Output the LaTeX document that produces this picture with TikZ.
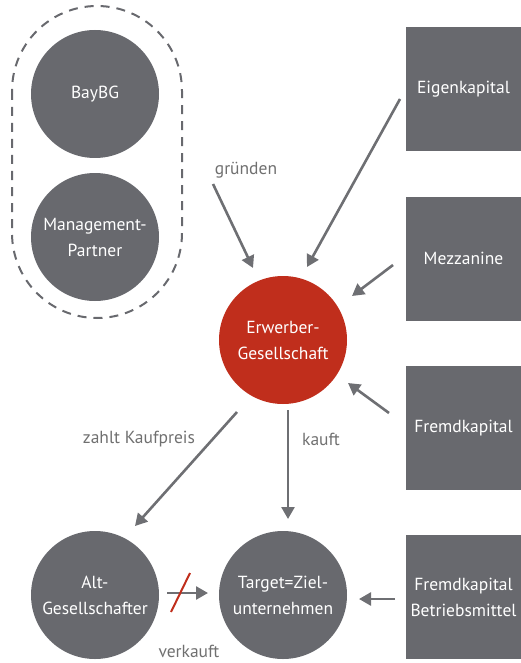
\documentclass[tikz,border=0pt]{standalone}
\usepackage{fontspec}
\setmainfont{PT Sans}
\usetikzlibrary{arrows.meta}
\definecolor{cgray}{RGB}{104,105,110}
\definecolor{cred}{RGB}{192,46,28}
\definecolor{agray}{RGB}{110,111,115}
\definecolor{tgray}{RGB}{112,112,112}
\tikzset{
  circ/.style={circle, fill=cgray, minimum size=128pt, inner sep=0pt, text=white, align=center, font=\fontsize{17.5}{26}\selectfont},
  redcirc/.style={circ, fill=cred},
  box/.style={rectangle, fill=cgray, minimum width=115pt, minimum height=124pt, inner sep=0pt, text=white, align=center, font=\fontsize{17.5}{26}\selectfont},
  arr/.style={draw=agray, line width=2.6pt, -{Triangle[length=12pt,width=13pt]}},
  lbl/.style={text=tgray, font=\fontsize{17.5}{20}\selectfont, inner sep=0pt},
}
\begin{document}
\begin{tikzpicture}[x=1pt,y=-1pt]
\useasboundingbox (0,0) rectangle (521,663);
% dashed group
\draw[cgray, line width=2pt, dash pattern=on 9pt off 7pt, rounded corners=85pt] (12,6) rectangle (182,318);
\node[circ] (bay) at (95,94) {BayBG};
\node[circ] (mgmt) at (95,237) {Management-\\Partner};
\node[redcirc] (erw) at (283,340) {Erwerber-\\Gesellschaft};
\node[circ] (alt) at (95,595) {Alt-\\Gesellschafter};
\node[circ] (tgt) at (283,595) {Target=Ziel-\\unternehmen};
\node[box] (ek) at (463.5,89) {Eigenkapital};
\node[box] (mez) at (463.5,258.5) {Mezzanine};
\node[box] (fk) at (463.5,428) {Fremdkapital};
\node[box] (fkb) at (463.5,597) {Fremdkapital\\Betriebsmittel};
% anchor coordinates
\coordinate (g1) at (213,184);
\coordinate (g2) at (253,268);
\coordinate (e1) at (400,99);
\coordinate (e2) at (307,267);
\coordinate (m1) at (393,265);
\coordinate (m2) at (352,296);
\coordinate (f1) at (389,413);
\coordinate (f2) at (348,383);
\coordinate (z1) at (237,412);
\coordinate (z2) at (135,526);
\coordinate (k1) at (288,410);
\coordinate (k2) at (288,519);
\coordinate (a1) at (167,593);
\coordinate (a2) at (208,593);
\coordinate (b1) at (395,599);
\coordinate (b2) at (359,599);
\coordinate (s1) at (190,573);
\coordinate (s2) at (171,612);
\draw[arr] (g1) -- (g2);
\draw[arr] (e1) -- (e2);
\draw[arr] (m1) -- (m2);
\draw[arr] (f1) -- (f2);
\draw[arr] (z1) -- (z2);
\draw[arr] (k1) -- (k2);
\draw[arr] (a1) -- (a2);
\draw[arr] (b1) -- (b2);
\draw[cred, line width=2pt] (s1) -- (s2);
% labels
\node[lbl] (lg) at (246,170) {gründen};
\node[lbl] (lz) at (139,439) {zahlt Kaufpreis};
\node[lbl] (lk) at (321,439) {kauft};
\node[lbl] (lv) at (189,651) {verkauft};
\end{tikzpicture}
\end{document}
